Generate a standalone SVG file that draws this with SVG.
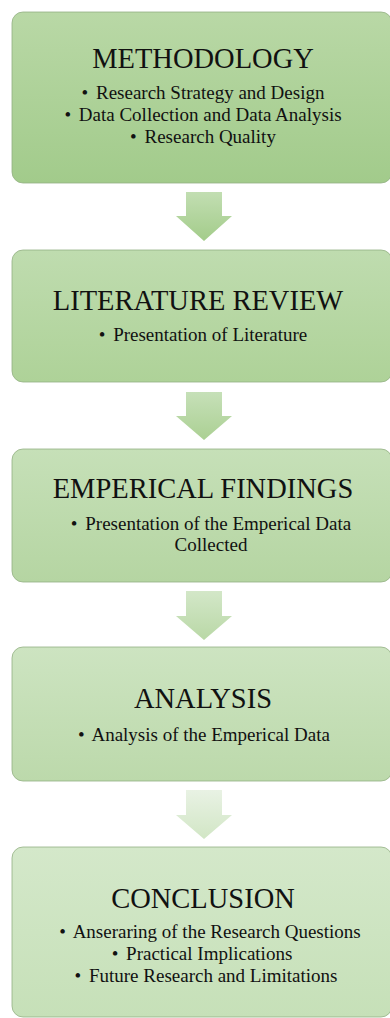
<svg xmlns="http://www.w3.org/2000/svg" width="390" height="1018" viewBox="0 0 390 1018">
<defs>
<linearGradient id="b1" x1="0" y1="0" x2="0" y2="1"><stop offset="0" stop-color="#b9d8a6"/><stop offset="1" stop-color="#a2cb8b"/></linearGradient>
<linearGradient id="b2" x1="0" y1="0" x2="0" y2="1"><stop offset="0" stop-color="#bfdcaf"/><stop offset="1" stop-color="#aed298"/></linearGradient>
<linearGradient id="b3" x1="0" y1="0" x2="0" y2="1"><stop offset="0" stop-color="#c6e0b8"/><stop offset="1" stop-color="#b5d5a2"/></linearGradient>
<linearGradient id="b4" x1="0" y1="0" x2="0" y2="1"><stop offset="0" stop-color="#cde4c1"/><stop offset="1" stop-color="#bcd9ab"/></linearGradient>
<linearGradient id="b5" x1="0" y1="0" x2="0" y2="1"><stop offset="0" stop-color="#d4e8ca"/><stop offset="1" stop-color="#c6e0b8"/></linearGradient>
<linearGradient id="a1" x1="0" y1="0" x2="0" y2="1"><stop offset="0" stop-color="#c2deb2"/><stop offset="1" stop-color="#a3cc8a"/></linearGradient>
<linearGradient id="a2" x1="0" y1="0" x2="0" y2="1"><stop offset="0" stop-color="#c6e0b8"/><stop offset="1" stop-color="#abd093"/></linearGradient>
<linearGradient id="a3" x1="0" y1="0" x2="0" y2="1"><stop offset="0" stop-color="#d3e7c8"/><stop offset="1" stop-color="#b9d8a6"/></linearGradient>
<linearGradient id="a4" x1="0" y1="0" x2="0" y2="1"><stop offset="0" stop-color="#e9f2e4"/><stop offset="1" stop-color="#d1e6c5"/></linearGradient>
</defs>
<style>
.box{stroke:#93b083;stroke-width:0.8}
.t{font-family:"Liberation Serif","Times New Roman",serif;font-size:28.5px;fill:#111;text-anchor:middle}
.s{font-family:"Liberation Serif","Times New Roman",serif;font-size:19px;fill:#111;text-anchor:middle}
</style>
<g id="connectors">
<path d="M186,192 H222 V216 H232 L204,241 L176,216 H186 Z" fill="url(#a1)"/>
<path d="M186,392 H222 V416 H232 L204,440 L176,416 H186 Z" fill="url(#a2)"/>
<path d="M186,591 H222 V616 H232 L204,640 L176,616 H186 Z" fill="url(#a3)"/>
<path d="M186,790 H222 V815 H232 L204,839 L176,815 H186 Z" fill="url(#a4)"/>
</g>
<g id="methodology">
<rect class="box" x="12" y="12" width="380" height="171" rx="11" fill="url(#b1)"/>
<text class="t" x="203" y="68">METHODOLOGY</text>
<text class="s" x="203" y="99">• <tspan dx="3">Research Strategy and Design</tspan></text>
<text class="s" x="203" y="121">• <tspan dx="3">Data Collection and Data Analysis</tspan></text>
<text class="s" x="203" y="143">• <tspan dx="3">Research Quality</tspan></text>
</g>
<g id="literature-review">
<rect class="box" x="12" y="250" width="380" height="132" rx="11" fill="url(#b2)"/>
<text class="t" x="198" y="310">LITERATURE REVIEW</text>
<text class="s" x="203" y="341">• <tspan dx="3">Presentation of Literature</tspan></text>
</g>
<g id="emperical-findings">
<rect class="box" x="12" y="449" width="380" height="133" rx="11" fill="url(#b3)"/>
<text class="t" x="203" y="498">EMPERICAL FINDINGS</text>
<text class="s" x="211" y="530">• <tspan dx="3">Presentation of the Emperical Data</tspan></text>
<text class="s" x="211" y="551">Collected</text>
</g>
<g id="analysis">
<rect class="box" x="12" y="647" width="380" height="134" rx="11" fill="url(#b4)"/>
<text class="t" x="203" y="708">ANALYSIS</text>
<text class="s" x="204" y="741">• <tspan dx="3">Analysis of the Emperical Data</tspan></text>
</g>
<g id="conclusion">
<rect class="box" x="12" y="847" width="380" height="170" rx="11" fill="url(#b5)"/>
<text class="t" x="203" y="908">CONCLUSION</text>
<text class="s" x="210" y="938">• <tspan dx="3">Anseraring of the Research Questions</tspan></text>
<text class="s" x="202" y="960">• <tspan dx="3">Practical Implications</tspan></text>
<text class="s" x="206" y="982">• <tspan dx="3">Future Research and Limitations</tspan></text>
</g>
</svg>
